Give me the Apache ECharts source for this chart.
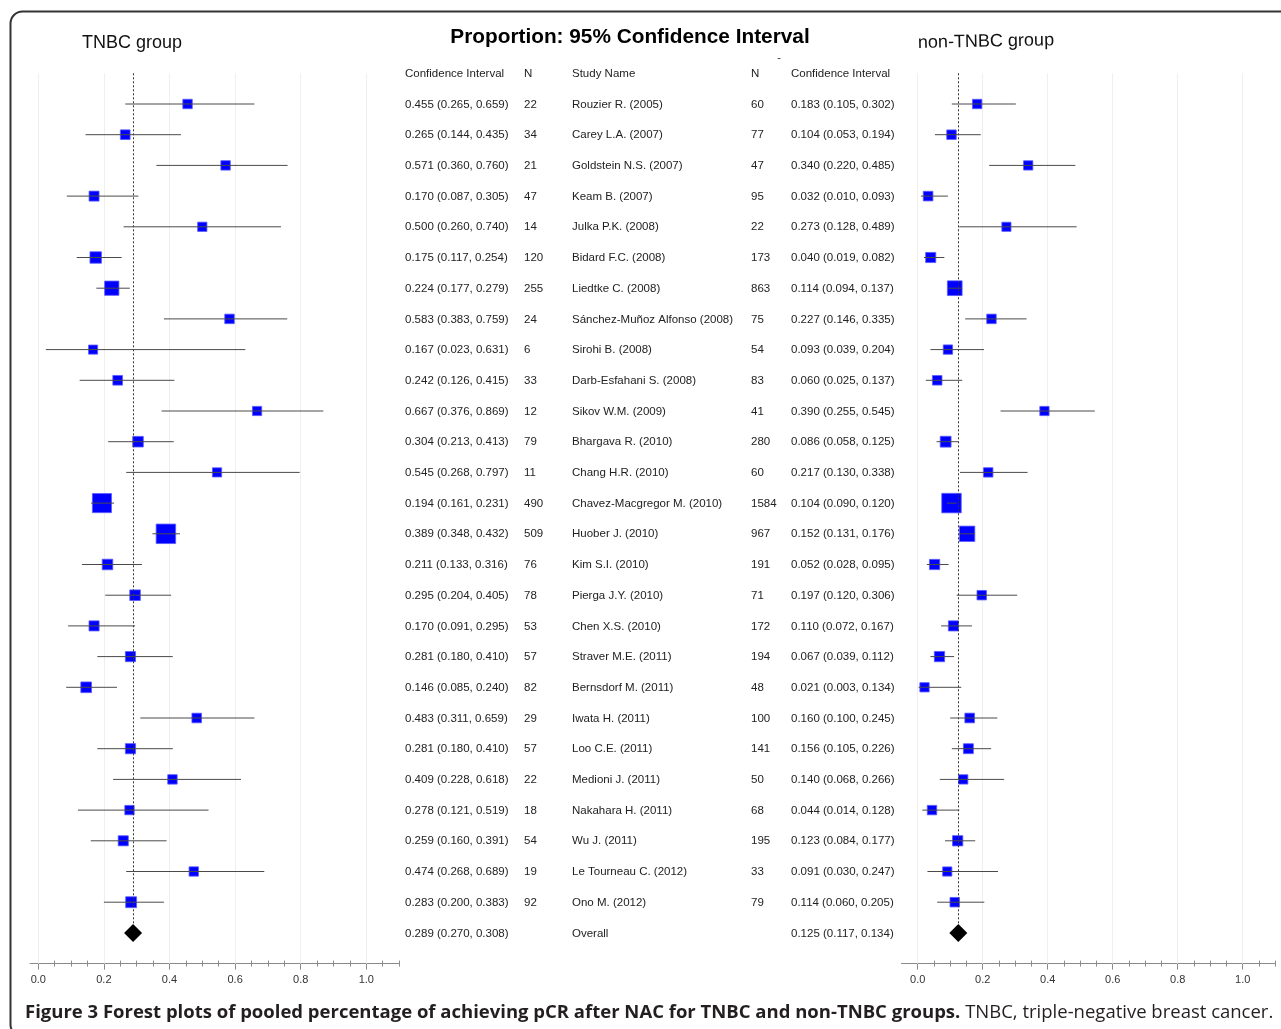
<!DOCTYPE html>
<html>
<head>
<meta charset="utf-8">
<script src="https://cdn.jsdelivr.net/npm/echarts@6/dist/echarts.min.js"></script>
<style>
html,body{margin:0;padding:0;background:#fff;}
#c{width:1281px;height:1029px;}
</style>
</head>
<body>
<div id="c"></div>
<script>
// ---------------- DATA ----------------
const studies = ['Rouzier R. (2005)','Carey L.A. (2007)','Goldstein N.S. (2007)','Keam B. (2007)','Julka P.K. (2008)','Bidard F.C. (2008)','Liedtke C. (2008)','Sánchez-Muñoz Alfonso (2008)','Sirohi B. (2008)','Darb-Esfahani S. (2008)','Sikov W.M. (2009)','Bhargava R. (2010)','Chang H.R. (2010)','Chavez-Macgregor M. (2010)','Huober J. (2010)','Kim S.I. (2010)','Pierga J.Y. (2010)','Chen X.S. (2010)','Straver M.E. (2011)','Bernsdorf M. (2011)','Iwata H. (2011)','Loo C.E. (2011)','Medioni J. (2011)','Nakahara H. (2011)','Wu J. (2011)','Le Tourneau C. (2012)','Ono M. (2012)'];

const tnbcEst = [0.455,0.265,0.571,0.170,0.500,0.175,0.224,0.583,0.167,0.242,0.667,0.304,0.545,0.194,0.389,0.211,0.295,0.170,0.281,0.146,0.483,0.281,0.409,0.278,0.259,0.474,0.283];
const tnbcLo  = [0.265,0.144,0.360,0.087,0.260,0.117,0.177,0.383,0.023,0.126,0.376,0.213,0.268,0.161,0.348,0.133,0.204,0.091,0.180,0.085,0.311,0.180,0.228,0.121,0.160,0.268,0.200];
const tnbcHi  = [0.659,0.435,0.760,0.305,0.740,0.254,0.279,0.759,0.631,0.415,0.869,0.413,0.797,0.231,0.432,0.316,0.405,0.295,0.410,0.240,0.659,0.410,0.618,0.519,0.391,0.689,0.383];
const tnbcN   = [22,34,21,47,14,120,255,24,6,33,12,79,11,490,509,76,78,53,57,82,29,57,22,18,54,19,92];

const nonEst = [0.183,0.104,0.340,0.032,0.273,0.040,0.114,0.227,0.093,0.060,0.390,0.086,0.217,0.104,0.152,0.052,0.197,0.110,0.067,0.021,0.160,0.156,0.140,0.044,0.123,0.091,0.114];
const nonLo  = [0.105,0.053,0.220,0.010,0.128,0.019,0.094,0.146,0.039,0.025,0.255,0.058,0.130,0.090,0.131,0.028,0.120,0.072,0.039,0.003,0.100,0.105,0.068,0.014,0.084,0.030,0.060];
const nonHi  = [0.302,0.194,0.485,0.093,0.489,0.082,0.137,0.335,0.204,0.137,0.545,0.125,0.338,0.120,0.176,0.095,0.306,0.167,0.112,0.134,0.245,0.226,0.266,0.128,0.177,0.247,0.205];
const nonN   = [60,77,47,95,22,173,863,75,54,83,41,280,60,1584,967,191,71,172,194,48,100,141,50,68,195,33,79];

const tnbcOverall = [0.289,0.270,0.308];
const nonOverall  = [0.125,0.117,0.134];

const majorTicks = [0,0.2,0.4,0.6,0.8,1.0];
const tickLabels = ['0.0','0.2','0.4','0.6','0.8','1.0'];
const minorTicks = [0,0.05,0.1,0.15,0.2,0.25,0.3,0.35,0.4,0.45,0.5,0.55,0.6,0.65,0.7,0.75,0.8,0.85,0.9,0.95,1.0,1.05,1.1];

// ---------------- CHART ----------------
const chart = echarts.init(document.getElementById('c'), null, {renderer:'canvas'});
const nRows = studies.length; // overall at index nRows
const ROW0 = 104, ROWH = 30.7;
const gridTop = ROW0 - ROWH;
const gridH = ROWH * (nRows + 2);
const fmt = v => v.toFixed(3);
const ciText = a => fmt(a[0]) + ' (' + fmt(a[1]) + ', ' + fmt(a[2]) + ')';
const TXT = '#222';
const FONT = '11.5px "Liberation Sans", Arial, sans-serif';

const grids = [
  {left: 38.3 - 0.025*328, width: 1.125*328, top: gridTop, height: gridH, min: -0.025},
  {left: 917.7 - 0.05*325, width: 1.15*325, top: gridTop, height: gridH, min: -0.05}
];

const xAxes = [], yAxes = [];
grids.forEach((g, gi) => {
  const base = {type:'value', gridIndex: gi, min: g.min, max: 1.1, position:'bottom', offset:0,
    splitLine:{show:false}, axisLabel:{show:false}, axisLine:{show:false, onZero:false}, axisTick:{show:false}};
  xAxes.push(Object.assign({}, base, {
    axisLine:{show:true, onZero:false, lineStyle:{color:'#8a8a8a', width:1}},
    axisTick:{show:true, inside:false, length:6, lineStyle:{color:'#8a8a8a'}, customValues: majorTicks},
    axisLabel:{show:true, customValues: majorTicks, margin:11, color:'#333', fontSize:11,
      fontFamily:'"Liberation Sans", Arial, sans-serif',
      formatter: v => { const k = majorTicks.findIndex(t => Math.abs(t - v) < 1e-9); return k >= 0 ? tickLabels[k] : ''; }}
  }));
  xAxes.push(Object.assign({}, base, {
    axisTick:{show:true, inside:true, length:6, lineStyle:{color:'#8a8a8a'}, customValues: majorTicks}
  }));
  xAxes.push(Object.assign({}, base, {
    axisTick:{show:true, inside:false, length:3, lineStyle:{color:'#8a8a8a'}, customValues: minorTicks}
  }));
  xAxes.push(Object.assign({}, base, {
    axisTick:{show:true, inside:true, length:3, lineStyle:{color:'#8a8a8a'}, customValues: minorTicks}
  }));
  yAxes.push({type:'value', gridIndex: gi, min:-1, max: nRows + 1, inverse:true, show:false,
    axisLine:{onZero:false}});
});

function gridLineSeries(gi) {
  return {
    type:'scatter', xAxisIndex: gi*4, yAxisIndex: gi, z: 1, silent:true, data: [],
    markLine: {
      silent:true, symbol:'none', label:{show:false}, animation:false, z:1,
      lineStyle:{color:'#efefef', width:1, type:'solid'},
      data: majorTicks.map(t => ({xAxis: t}))
    }
  };
}
function ciSeries(gi, lo, hi) {
  return {
    type:'custom', xAxisIndex: gi*4, yAxisIndex: gi, z: 5, clip:false, silent:true,
    data: lo.map((l, i) => [l, hi[i], i]),
    encode: {x:[0,1], y:2},
    renderItem: (params, api) => {
      const p1 = api.coord([api.value(0), api.value(2)]);
      const p2 = api.coord([api.value(1), api.value(2)]);
      return {type:'line', shape:{x1:p1[0], y1:p1[1], x2:p2[0], y2:p2[1]},
        style:{stroke:'#4a4a4a', lineWidth:1}};
    }
  };
}
function squareSeries(gi, est, ns) {
  const maxN = Math.max.apply(null, ns);
  return {
    type:'scatter', xAxisIndex: gi*4, yAxisIndex: gi, z: 4, silent:true,
    symbol:'rect',
    symbolSize: v => 9 + 10.5 * v[2] / maxN,
    itemStyle:{color:'#0000ff', borderColor:'#5a5aff', borderWidth:0.8, opacity:1},
    data: est.map((e, i) => [e, i, ns[i]])
  };
}
function overallSeries(gi, ov) {
  return {
    type:'scatter', xAxisIndex: gi*4, yAxisIndex: gi, z: 6, silent:true,
    symbol:'diamond', symbolSize:[18,18],
    itemStyle:{color:'#000', opacity:1},
    data:[[ov[0], nRows]],
    markLine: {
      silent:true, symbol:'none', label:{show:false}, animation:false,
      lineStyle:{color:'#333', width:1, type:[2,2]},
      data: [[{coord:[ov[0], -1]}, {coord:[ov[0], nRows]}]]
    }
  };
}

const tableRows = [];
tableRows.push({ci1:'Confidence Interval', n1:'N', name:'Study Name', n2:'N', ci2:'Confidence Interval', row:-1});
studies.forEach((s, i) => tableRows.push({
  ci1: ciText([tnbcEst[i], tnbcLo[i], tnbcHi[i]]), n1: String(tnbcN[i]), name: s,
  n2: String(nonN[i]), ci2: ciText([nonEst[i], nonLo[i], nonHi[i]]), row: i }));
tableRows.push({ci1: ciText(tnbcOverall), n1:'', name:'Overall', n2:'', ci2: ciText(nonOverall), row: nRows});

const colX = [405, 524, 572, 751, 791];
const tableSeries = {
  type:'custom', xAxisIndex:0, yAxisIndex:0, clip:false, silent:true, z:10,
  data: tableRows.map(r => [0, r.row]),
  encode:{x:0, y:1},
  renderItem: (params, api) => {
    const r = tableRows[params.dataIndex];
    const y = api.coord([0, api.value(1)])[1] + 0.5;
    const vals = [r.ci1, r.n1, r.name, r.n2, r.ci2];
    return {type:'group', children: vals.map((t, k) => ({
      type:'text', style:{x: colX[k], y: y, text: t, fill: TXT, font: FONT, align:'left', verticalAlign:'middle'}
    }))};
  }
};

const option = {
  animation:false,
  backgroundColor:'#fff',
  grid: grids.map(g => ({left:g.left, width:g.width, top:g.top, height:g.height, containLabel:false})),
  xAxis: xAxes,
  yAxis: yAxes,
  series: [
    gridLineSeries(0), gridLineSeries(1),
    squareSeries(0, tnbcEst, tnbcN), ciSeries(0, tnbcLo, tnbcHi), overallSeries(0, tnbcOverall),
    squareSeries(1, nonEst, nonN), ciSeries(1, nonLo, nonHi), overallSeries(1, nonOverall),
    tableSeries
  ],
  graphic: [
    {type:'rect', shape:{x:10.5, y:11.5, width:1320, height:1025, r:12},
     style:{fill:'none', stroke:'#333', lineWidth:2}, z:-10},
    {type:'text', style:{x:630, y:37, text:'Proportion: 95% Confidence Interval', align:'center', verticalAlign:'middle',
      font:'bold 20.8px "Liberation Sans", Arial, sans-serif', fill:'#000'}},
    {type:'text', style:{x:82, y:43, text:'TNBC group', align:'left', verticalAlign:'middle',
      font:'18px "Liberation Sans", Arial, sans-serif', fill:'#111'}},
    {type:'text', x:918, y:43, rotation:0.02, style:{x:0, y:0, text:'non-TNBC group', align:'left', verticalAlign:'middle',
      font:'18px "Liberation Sans", Arial, sans-serif', fill:'#111'}},
    {type:'text', style:{x:779, y:58, text:'-', align:'center', verticalAlign:'middle',
      font:'11px "Liberation Sans", Arial, sans-serif', fill:'#333'}},
    {type:'text', style:{x:25, y:1013, verticalAlign:'middle', align:'left',
      text:'{b|Figure 3 Forest plots of pooled percentage of achieving pCR after NAC for TNBC and non-TNBC groups.}{r| TNBC, triple-negative breast cancer.}',
      rich:{
        b:{font:'bold 18.5px "Open Sans", sans-serif', fill:'#231f20'},
        r:{font:'18.5px "Open Sans", sans-serif', fill:'#231f20'}
      }}}
  ]
};
chart.setOption(option);
</script>
</body>
</html>
